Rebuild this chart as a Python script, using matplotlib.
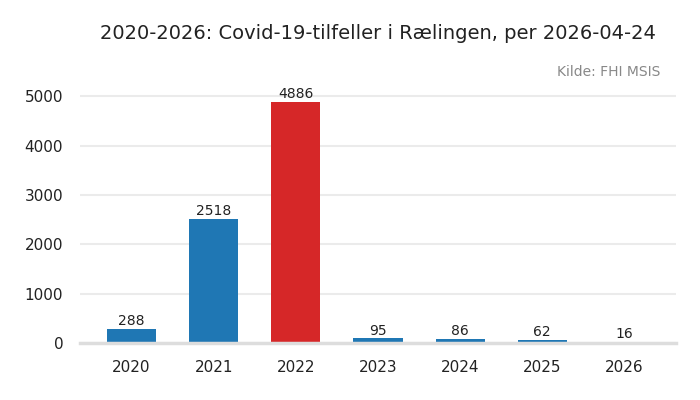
import matplotlib
matplotlib.use("Agg")
import matplotlib.pyplot as plt

years = ["2020", "2021", "2022", "2023", "2024", "2025", "2026"]
cases = [288, 2518, 4886, 95, 86, 62, 16]
colors = ["#1f77b4", "#1f77b4", "#d62728", "#1f77b4", "#1f77b4", "#1f77b4", "#1f77b4"]

fig = plt.figure(figsize=(7, 4), dpi=100)
ax = fig.add_axes([0.114, 0.1425, 0.852, 0.633])

x = range(len(years))
bars = ax.bar(x, cases, width=0.6, color=colors, zorder=3)
for b, v in zip(bars, cases):
    ax.text(b.get_x() + b.get_width() / 2, v + 15, str(v), ha="center", va="bottom",
            fontsize=10, color="#222222", zorder=4)

ax.set_xticks(list(x))
ax.set_xticklabels(years)
ax.set_xlim(-0.63, len(years) - 0.37)
ax.set_ylim(0, 5130)
ax.set_yticks([0, 1000, 2000, 3000, 4000, 5000])
ax.yaxis.grid(True, color="#ebebeb", linewidth=1.5, zorder=0)
ax.tick_params(axis="both", length=0, labelsize=11, colors="#222222")
ax.tick_params(axis="x", pad=12)
ax.tick_params(axis="y", pad=12)
for s in ["top", "right", "left"]:
    ax.spines[s].set_visible(False)
ax.spines["bottom"].set_color("#dddddd")
ax.spines["bottom"].set_linewidth(2.5)
ax.spines["bottom"].set_zorder(5)

fig.text(0.54, 0.917, "2020-2026: Covid-19-tilfeller i Rælingen, per 2026-04-24",
         ha="center", va="center", fontsize=14, color="#222222")
fig.text(0.943, 0.82, "Kilde: FHI MSIS", ha="right", va="center", fontsize=10, color="#888888")

fig.savefig("out.png", dpi=100)
